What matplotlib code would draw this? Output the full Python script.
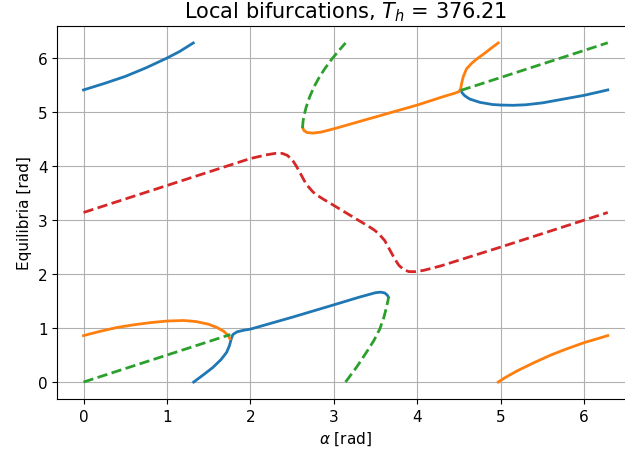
import numpy as np
import matplotlib
matplotlib.use("Agg")
import matplotlib.pyplot as plt

# branches of equilibria (alpha [rad], equilibrium [rad])
blue_top_x = [0.0, 0.25, 0.5, 0.75, 1.0, 1.15, 1.315]
blue_top_y = [5.41, 5.53, 5.66, 5.82, 6.0, 6.12, 6.28]

blue_low_x = [1.32, 1.45, 1.55, 1.65, 1.715, 1.75, 1.77, 1.79, 1.84, 1.92, 2.0,
              2.5, 3.0, 3.3, 3.5, 3.56, 3.61, 3.64, 3.655]
blue_low_y = [0.0, 0.15, 0.27, 0.42, 0.55, 0.68, 0.80, 0.88, 0.93, 0.96, 0.98,
              1.20, 1.43, 1.57, 1.655, 1.665, 1.65, 1.61, 1.57]

blue_right_x = [4.52, 4.54, 4.57, 4.63, 4.75, 4.9, 5.0, 5.15, 5.3, 5.5, 5.75, 6.0, 6.283]
blue_right_y = [5.41, 5.35, 5.30, 5.24, 5.18, 5.14, 5.13, 5.125, 5.135, 5.17, 5.24, 5.31, 5.41]

orange_left_x = [0.0, 0.2, 0.4, 0.6, 0.8, 1.0, 1.2, 1.35, 1.5, 1.6, 1.68, 1.73, 1.755]
orange_left_y = [0.86, 0.94, 1.01, 1.06, 1.10, 1.13, 1.14, 1.12, 1.07, 1.01, 0.94, 0.87, 0.80]

orange_mid_x = [2.625, 2.64, 2.68, 2.75, 2.85, 3.0, 3.5, 4.0, 4.3, 4.45, 4.5, 4.52,
                4.53, 4.55, 4.59, 4.65, 4.71, 4.8, 4.9, 4.97]
orange_mid_y = [4.72, 4.66, 4.62, 4.61, 4.63, 4.69, 4.91, 5.13, 5.28, 5.35, 5.38, 5.43,
                5.52, 5.65, 5.80, 5.90, 5.98, 6.08, 6.2, 6.28]

orange_right_x = [4.97, 5.05, 5.2, 5.4, 5.6, 5.8, 6.0, 6.283]
orange_right_y = [0.0, 0.08, 0.21, 0.36, 0.50, 0.62, 0.73, 0.86]

green_left_x = [0.0, 1.76]
green_left_y = [0.0, 0.88]

green_top_x = [2.625, 2.63, 2.645, 2.67, 2.71, 2.76, 2.82, 2.89, 2.97, 3.05, 3.14]
green_top_y = [4.70, 4.82, 4.95, 5.10, 5.28, 5.46, 5.63, 5.80, 5.97, 6.12, 6.28]

green_low_x = [3.14, 3.27, 3.39, 3.48, 3.55, 3.6, 3.63, 3.65, 3.655]
green_low_y = [0.0, 0.27, 0.55, 0.77, 0.98, 1.2, 1.38, 1.52, 1.58]

green_right_x = [4.52, 6.283]
green_right_y = [5.40, 6.283]

red_x = [0.0, 1.0, 2.0, 2.2, 2.3, 2.38, 2.44, 2.5, 2.55, 2.6, 2.67, 2.75, 2.8, 2.87,
         2.99, 3.14, 3.29, 3.41, 3.48, 3.53, 3.61, 3.68, 3.73, 3.78, 3.84, 3.9, 3.98,
         4.08, 4.28, 5.0, 6.283]
red_y = [3.14, 3.64, 4.14, 4.21, 4.235, 4.235, 4.2, 4.12, 4.0, 3.86, 3.66, 3.52, 3.46,
         3.39, 3.28, 3.14, 3.0, 2.89, 2.82, 2.76, 2.62, 2.42, 2.28, 2.16, 2.08, 2.045,
         2.045, 2.07, 2.15, 2.5, 3.14]

fig = plt.figure(figsize=(6.25, 4.6), dpi=100)
ax = fig.add_axes([0.0917, 0.1304, 0.9227, 0.8113])

lw = 2
ax.plot(blue_top_x, blue_top_y, color='C0', lw=lw)
ax.plot(blue_low_x, blue_low_y, color='C0', lw=lw)
ax.plot(blue_right_x, blue_right_y, color='C0', lw=lw)
ax.plot(orange_left_x, orange_left_y, color='C1', lw=lw)
ax.plot(orange_mid_x, orange_mid_y, color='C1', lw=lw)
ax.plot(orange_right_x, orange_right_y, color='C1', lw=lw)
ax.plot(green_left_x, green_left_y, '--', color='C2', lw=lw)
ax.plot(green_top_x, green_top_y, '--', color='C2', lw=lw)
ax.plot(green_low_x, green_low_y, '--', color='C2', lw=lw)
ax.plot(green_right_x, green_right_y, '--', color='C2', lw=lw)
ax.plot(red_x, red_y, '--', color='C3', lw=lw)

ax.set_title(r'Local bifurcations, $T_h$ = 376.21', fontsize=15)
ax.set_xlabel(r'$\alpha$ [rad]', fontsize=11)
ax.set_ylabel('Equilibria [rad]', fontsize=11)
ax.tick_params(labelsize=11)
ax.grid(True)

fig.savefig('out.png', dpi=100)
